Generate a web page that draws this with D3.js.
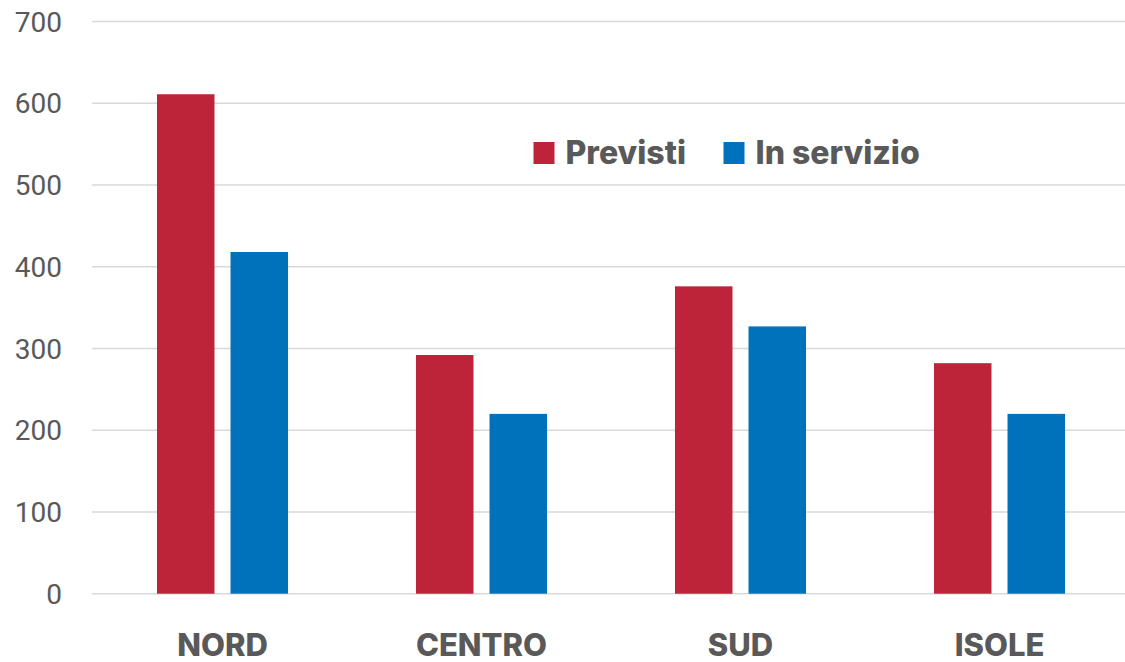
<!DOCTYPE html>
<html><head><meta charset="utf-8">
<script src="https://cdn.jsdelivr.net/npm/d3@7"></script>
<style>body{margin:0;background:#fff}svg{display:block}</style>
</head><body><svg id="c" width="1125" height="662"></svg>
<script>
const categories = ["NORD", "CENTRO", "SUD", "ISOLE"];
const seriesNames = ["Previsti", "In servizio"];
const previsti = [611, 292, 376, 282];
const inServizio = [418, 220, 327, 220];
const yTicks = [0, 100, 200, 300, 400, 500, 600, 700];
const colors = ["#BE2439", "#0072BC"];

const svg = d3.select("#c");
const plot = {left: 93, right: 1129, top: 21.5, bottom: 593.7};
const y = d3.scaleLinear().domain([0, 700]).range([plot.bottom, plot.top]);
const x0 = d3.scaleBand().domain(categories).range([plot.left, plot.right]).paddingInner(0.494).paddingOuter(0.247);
const x1 = d3.scaleBand().domain(seriesNames).range([0, x0.bandwidth()]).paddingInner(0.218).paddingOuter(0);
const color = d3.scaleOrdinal().domain(seriesNames).range(colors);

// grid
svg.append("g").selectAll("line").data(yTicks).join("line")
  .attr("x1", 92).attr("x2", 1125)
  .attr("y1", d => y(d)).attr("y2", d => y(d))
  .attr("stroke", "#d9d9d9").attr("stroke-width", 1.5);

// y labels
svg.append("g").selectAll("text").data(yTicks).join("text")
  .attr("x", 62).attr("y", d => y(d)).attr("dy", "0.36em")
  .attr("text-anchor", "end")
  .attr("font-family", "Roboto, sans-serif").attr("font-size", 28)
  .attr("fill", "#595959").text(d => d);

// bars
const data = categories.map((c, i) => ({cat: c, vals: [
  {s: seriesNames[0], v: previsti[i]}, {s: seriesNames[1], v: inServizio[i]}]}));
svg.append("g").selectAll("g").data(data).join("g")
  .attr("transform", d => `translate(${x0(d.cat)},0)`)
  .selectAll("rect").data(d => d.vals).join("rect")
  .attr("x", d => x1(d.s)).attr("width", x1.bandwidth())
  .attr("y", d => y(d.v)).attr("height", d => y(0) - y(d.v))
  .attr("fill", d => color(d.s));

// category labels
svg.append("g").selectAll("text").data(categories).join("text")
  .attr("x", d => x0(d) + x0.bandwidth() / 2).attr("y", 656)
  .attr("text-anchor", "middle")
  .attr("font-family", "Inter, 'Open Sans', sans-serif").attr("font-weight", 800).attr("font-size", 31)
  .attr("fill", "#595959").text(d => d);

// legend
const legX = [533.5, 723.5];
const leg = svg.append("g").selectAll("g").data(seriesNames).join("g")
  .attr("transform", (d, i) => `translate(${legX[i]},142)`);
leg.append("rect").attr("width", 21).attr("height", 22).attr("fill", d => color(d));
leg.append("text").attr("x", 32).attr("y", 21.5)
  .attr("font-family", "Inter, 'Open Sans', sans-serif").attr("font-weight", 800).attr("font-size", 32)
  .attr("fill", "#595959").text(d => d);
</script></body></html>
